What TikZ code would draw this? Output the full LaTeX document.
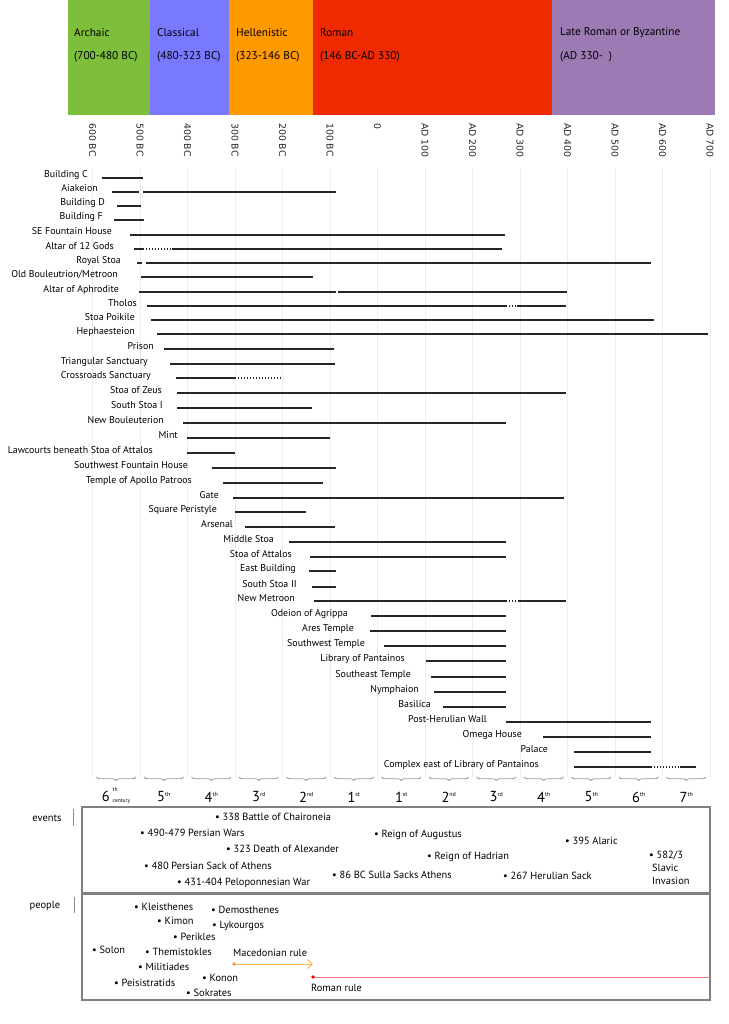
\documentclass[tikz,border=0pt]{standalone}
\usepackage{fontspec}
\setmainfont{PT Sans}
\newfontfamily\axisfont{DejaVu Sans}
\usetikzlibrary{decorations.pathreplacing,arrows.meta}
\definecolor{archaic}{RGB}{125,190,58}
\definecolor{classical}{RGB}{121,121,255}
\definecolor{hellenistic}{RGB}{255,153,0}
\definecolor{roman}{RGB}{240,42,0}
\definecolor{lateroman}{RGB}{156,123,180}
\definecolor{macrule}{RGB}{255,178,70}
\definecolor{romrule}{RGB}{255,120,120}
\newcommand\centlab[2]{#1\raisebox{5.5pt}{\fontsize{6}{6}\selectfont#2}}
\begin{document}
\begin{tikzpicture}[x=1pt,y=-1pt,
    every node/.style={inner sep=0pt},
    era/.style={anchor=west,font=\fontsize{11.3}{12}\selectfont},
    year label/.style={rotate=-90,anchor=west,font=\axisfont\fontsize{9.3}{10}\selectfont,text=black!85},
    grid line/.style={draw=black!7,line width=0.8pt},
    site/.style={anchor=base east,font=\fontsize{9.9}{11}\selectfont},
    bar/.style={draw=black!85,line width=1.3pt},
    gap bar/.style={bar,dash pattern=on 1pt off 2pt},
    brace line/.style={draw=black!40,line width=0.8pt,decorate,decoration={brace,mirror,amplitude=3.5pt}},
    century/.style={font=\fontsize{14.5}{15}\selectfont},
    tiny label/.style={font=\fontsize{5.5}{6}\selectfont},
    box/.style={draw=black!50,line width=1.2pt},
    item/.style={anchor=west,font=\fontsize{10.4}{11.5}\selectfont},
    side label/.style={font=\fontsize{10.5}{12}\selectfont},
  ]
  \useasboundingbox (0,0) rectangle (728,1024);

  \fill[archaic] (68,0) rectangle (150,115);
  \fill[classical] (150,0) rectangle (229,115);
  \fill[hellenistic] (229,0) rectangle (313,115);
  \fill[roman] (313,0) rectangle (552,115);
  \fill[lateroman] (552,0) rectangle (715,115);
  \node[era] (archaic) at (74,33) {Archaic};
  \node[era] (archaicd) at (74,57) {(700-480 BC)};
  \node[era] (classical) at (157,33) {Classical};
  \node[era] (classicald) at (157,57) {(480-323 BC)};
  \node[era] (hellen) at (236,33) {Hellenistic};
  \node[era] (hellend) at (236,57) {(323-146 BC)};
  \node[era] (roman) at (320,33) {Roman};
  \node[era] (romand) at (320,57) {(146 BC-AD 330)};
  \node[era] (late) at (560,33) {Late Roman or Byzantine};
  \node[era] (lated) at (560,57) {(AD 330-~~)};

  \foreach \lab [count=\k from 0] in {600 BC,500 BC,400 BC,300 BC,200 BC,100 BC,0,
      AD 100,AD 200,AD 300,AD 400,AD 500,AD 600,AD 700}
  {
    \node[year label] (yr\k) at (92.5+47.5*\k,123) {\lab};
    \draw[grid line] (92.5+47.5*\k,168) -- (92.5+47.5*\k,777);
  }

  \foreach \n/\y/\lx/\txt in {
      1/178/88/Building C, 2/192/98/Aiakeion, 3/206/105/Building D,
      4/220/103/Building F, 5/235/112/SE Fountain House, 6/249/114/Altar of 12 Gods,
      7/263/121/Royal Stoa, 8/277/118/Old Bouleutrion\slash Metroon,
      9/292/119/Altar of Aphrodite, 10/306/137/Tholos, 11/320/135/Stoa Poikile,
      12/334/135/Hephaesteion, 13/349/154/Prison, 14/364/148/Triangular Sanctuary,
      15/378/151/Crossroads Sanctuary, 16/393/162/Stoa of Zeus,
      17/408/163/South Stoa I, 18/423/164/New Bouleuterion, 19/438/178/Mint,
      20/453/153/Lawcourts beneath Stoa of Attalos,
      21/468/188/Southwest Fountain House, 22/483/192/Temple of Apollo Patroos,
      23/498/219/Gate, 24/512/217/Square Peristyle, 25/527/233/Arsenal,
      26/542/274/Middle Stoa, 27/557/292/Stoa of Attalos, 28/571/296/East Building,
      29/587/297/South Stoa II, 30/601/295/New Metroon, 31/616/348/Odeion of Agrippa,
      32/631/354/Ares Temple, 33/646/365/Southwest Temple,
      34/661/405/Library of Pantainos, 35/677/411/Southeast Temple,
      36/692/419/Nymphaion, 37/707/431/Basilica, 38/722/487/Post-Herulian Wall,
      39/737/522/Omega House, 40/752/548/Palace,
      41/767/539/Complex east of Library of Pantainos}
    \node[site] (site\n) at (\lx,\y) {\txt};

  \foreach \y/\a/\b in {178/102/143, 192/112/139, 192/143/336, 206/117/141,
      220/114/144, 235/130/505, 249/134/143, 249/172/502, 263/137/142, 263/146/651,
      277/141/313, 292/139/336, 292/338/567, 306/147/506, 306/517/566, 320/151/654,
      334/157/708, 349/164/334, 364/170/335, 378/176/235, 393/177/566,
      408/177/312, 423/183/506, 438/187/330, 453/187/235, 468/212/336,
      483/223/323, 498/233/564, 512/235/306, 527/245/335, 542/289/506,
      557/310/506, 571/309/336, 587/312/336, 601/314/506, 601/518/566,
      616/371/506, 631/370/506, 646/384/506, 661/426/506, 677/431/506,
      692/434/506, 707/443/506, 722/506/651, 737/543/651, 752/574/651,
      767/574/651, 767/680/696}
    \draw[bar] (\a,\y) -- (\b,\y);
  \foreach \y/\a/\b in {249/143/172, 306/506/517, 378/235/283, 601/506/518, 767/651/680}
    \draw[gap bar] (\a,\y) -- (\b,\y);

  \foreach \num/\suf [count=\k from 0] in {6/th,5/th,4/th,3/rd,2/nd,1/st,1/st,
      2/nd,3/rd,4/th,5/th,6/th,7/th}
  {
    \draw[brace line] (96.5+47.5*\k,777) -- (136+47.5*\k,777);
    \ifnum\k>0
      \node[century] (cen\k) at (116.25+47.5*\k,797) {\centlab{\num}{\suf}};
    \fi
  }
  \node[century,anchor=base east] (cen0) at (110,801) {6};
  \node[tiny label,anchor=base west] (cen0sup) at (112.5,791.5) {th};
  \node[tiny label,anchor=base west] (cen0sub) at (112.5,802.5) {century};

  \draw[box] (82,807) rectangle (710,893);
  \draw[box] (82,894) rectangle (710,1000);
  \node[side label] (events) at (47,818) {events};
  \node[side label] (people) at (45,906) {people};
  \draw[black!45] (73,809) -- (73,826);
  \draw[black!45] (74,897) -- (74,913);

  \node[item] (ev1) at (215,817) {\textbullet\ 338 Battle of Chaironeia};
  \node[item] (ev2) at (140,833) {\textbullet\ 490-479 Persian Wars};
  \node[item] (ev3) at (226,849) {\textbullet\ 323 Death of Alexander};
  \node[item] (ev4) at (144,866) {\textbullet\ 480 Persian Sack of Athens};
  \node[item] (ev5) at (177,883) {\textbullet\ 431-404 Peloponnesian War};
  \node[item] (ev6) at (332,875) {\textbullet\ 86 BC Sulla Sacks Athens};
  \node[item] (ev7) at (374,835) {\textbullet\ Reign of Augustus};
  \node[item] (ev8) at (427,857) {\textbullet\ Reign of Hadrian};
  \node[item] (ev9) at (565,841) {\textbullet\ 395 Alaric};
  \node[item] (ev10) at (503,876) {\textbullet\ 267 Herulian Sack};
  \node[item,anchor=north west,align=left] (ev11) at (649,851)
    {\textbullet\ 582/3\\[1.2pt]\hspace{3pt}Slavic\\[1.2pt]\hspace{3pt}Invasion};

  \node[item] (pp1) at (134,907) {\textbullet\ Kleisthenes};
  \node[item] (pp2) at (211,910) {\textbullet\ Demosthenes};
  \node[item] (pp3) at (157,921) {\textbullet\ Kimon};
  \node[item] (pp4) at (212,926) {\textbullet\ Lykourgos};
  \node[item] (pp5) at (173,937) {\textbullet\ Perikles};
  \node[item] (pp6) at (92,950) {\textbullet\ Solon};
  \node[item] (pp7) at (145,952) {\textbullet\ Themistokles};
  \node[item] (pp8) at (138,967) {\textbullet\ Militiades};
  \node[item] (pp9) at (114,983) {\textbullet\ Peisistratids};
  \node[item] (pp10) at (202,978) {\textbullet\ Konon};
  \node[item] (pp11) at (186,993) {\textbullet\ Sokrates};

  \node[item] (macedon) at (233,953) {Macedonian rule};
  \coordinate (macstart) at (234,964);
  \coordinate (macend) at (313,964);
  \draw[macrule,line width=0.9pt,-{Straight Barb[length=5pt,width=9pt]}] (macstart) -- (macend);
  \fill[macrule!80!red] (macstart) circle (1.8pt);
  \node[item] (romanrule) at (311,988) {Roman rule};
  \coordinate (romstart) at (313,977);
  \coordinate (romend) at (710,977);
  \draw[romrule,line width=0.9pt] (romstart) -- (romend);
  \fill[red] (romstart) circle (1.8pt);
\end{tikzpicture}
\end{document}
